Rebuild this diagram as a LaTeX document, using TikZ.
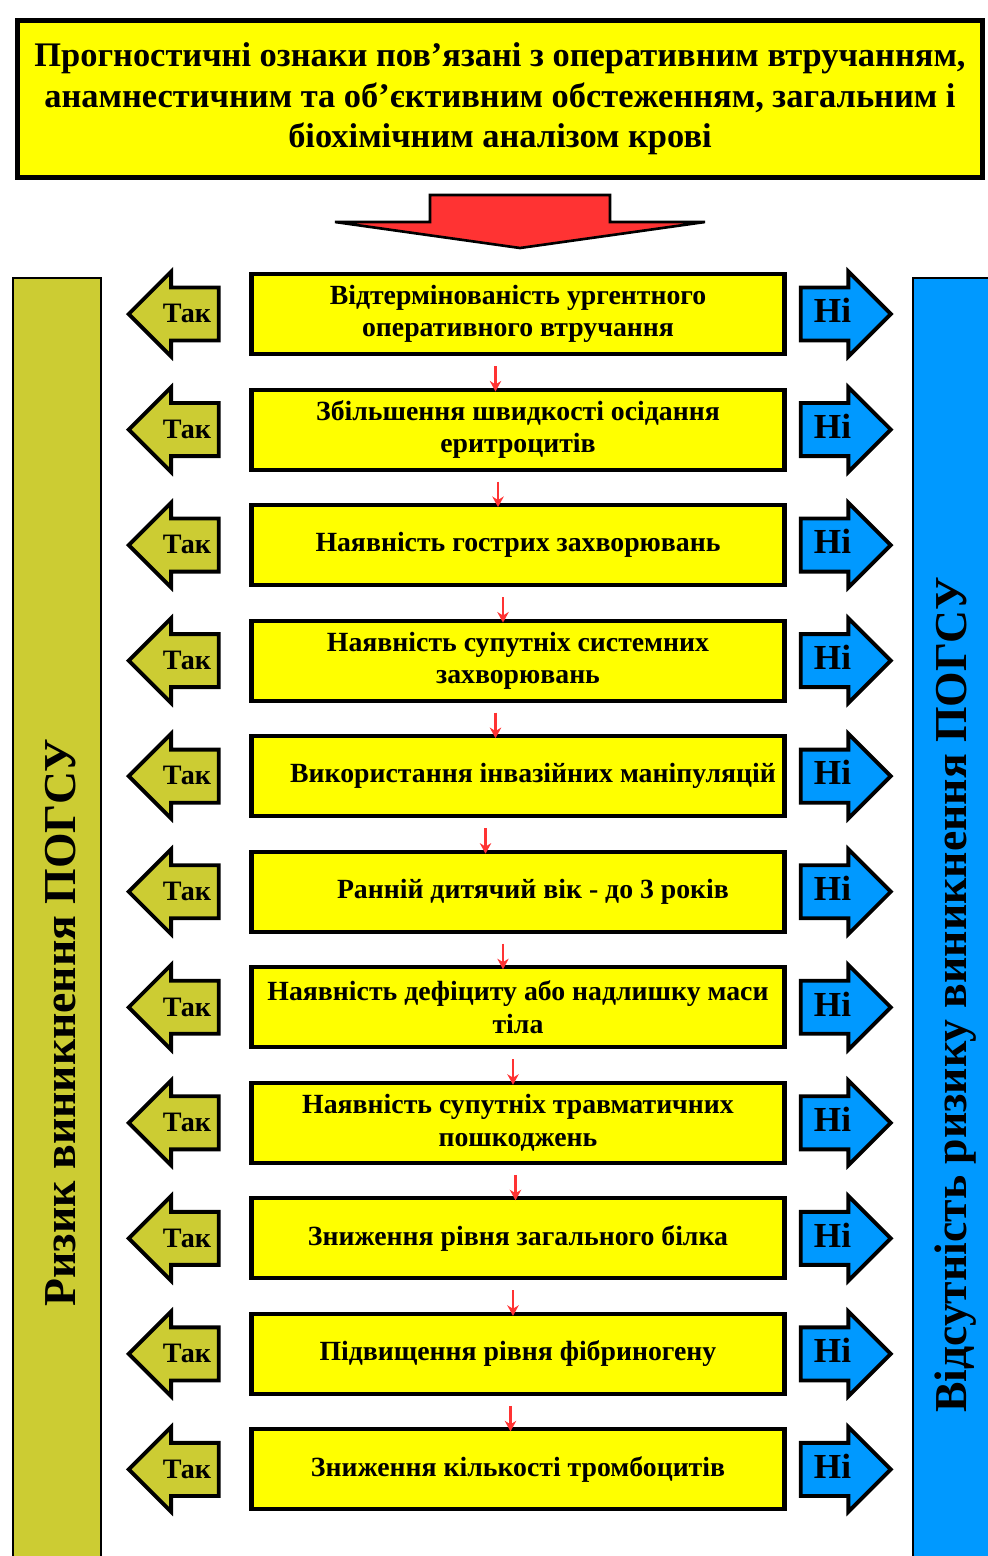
\documentclass[tikz,border=0pt]{standalone}
\usepackage{fontspec}
\setmainfont{Liberation Serif}
\usepackage{tikz}
\usetikzlibrary{shapes.geometric, shapes.arrows, arrows, arrows.meta, positioning, calc}
\definecolor{boxyellow}{RGB}{255, 255, 0}
\definecolor{riskolive}{RGB}{204, 204, 51}
\definecolor{norisk}{RGB}{0, 153, 255}
\definecolor{arrowred}{RGB}{255, 51, 51}
\tikzstyle{headbox} = [rectangle, minimum width=19.3cm, minimum height=3.15cm, align=center, draw=black, line width=2.8pt, fill=boxyellow, font=\bfseries\fontsize{19.6}{23}\selectfont]
\tikzstyle{sign} = [rectangle, minimum width=10.66cm, minimum height=1.6cm, align=center, draw=black, line width=2.3pt, fill=boxyellow, font=\bfseries\fontsize{15.8}{18.5}\selectfont]
\tikzstyle{yes} = [single arrow, shape border rotate=180, single arrow head extend=9pt, single arrow head indent=0pt, minimum height=1.8cm, inner xsep=2pt, inner ysep=9pt, text height=10pt, text depth=0pt, draw=black, line width=2.2pt, fill=riskolive, font=\bfseries\fontsize{16}{16}\selectfont]
\tikzstyle{no} = [single arrow, single arrow head extend=9pt, single arrow head indent=0pt, minimum height=1.8cm, inner xsep=2pt, inner ysep=9pt, text height=10pt, text depth=0pt, draw=black, line width=2.2pt, fill=norisk, font=\bfseries\fontsize{20}{20}\selectfont]
\tikzstyle{sidebar} = [rectangle, anchor=north west, draw=black, line width=1.2pt]
\tikzstyle{sidetext} = [rotate=90, font=\bfseries\fontsize{26}{26}\selectfont]
\tikzstyle{arrow} = [-{Stealth[length=6pt,width=6.5pt]}, line width=1.6pt, draw=arrowred, shorten <=0.2cm, shorten >=-0.08cm]

\begin{document}
\begin{tikzpicture}[node distance=0.63cm]
\useasboundingbox (0,0) rectangle (19.74,-31.12);

% Heading
\node (head) [headbox] at (10.0,-1.98) {Прогностичні ознаки пов’язані з оперативним втручанням,\\ анамнестичним та об’єктивним обстеженням, загальним і\\ біохімічним аналізом крові};
\filldraw [fill=arrowred, draw=black, line width=1.5pt] (8.6,-3.9) -- (12.2,-3.9) -- (12.2,-4.44) -- (14.1,-4.44) -- (10.4,-4.96) -- (6.7,-4.44) -- (8.6,-4.44) -- cycle;

% Side bars
\node (riskbar) [sidebar, fill=riskolive, minimum width=1.76cm, minimum height=25.8cm] at (0.24,-5.54) {};
\node (norbar) [sidebar, fill=norisk, minimum width=1.9cm, minimum height=25.8cm] at (18.24,-5.54) {};
\node (risktext) [sidetext] at (1.22,-20.45) {Ризик виникнення ПОГСУ};
\node (notext) [sidetext] at (19.12,-19.9) {Відсутність ризику виникнення ПОГСУ};

% Signs
\node (s1) [sign] at (10.36,-6.28) {Відтермінованість ургентного\\ оперативного втручання};
\node (s2) [sign, below=of s1] {Збільшення швидкості осідання\\ еритроцитів};
\node (s3) [sign, below=of s2] {Наявність гострих захворювань};
\node (s4) [sign, below=of s3] {Наявність супутніх системних\\ захворювань};
\node (s5) [sign, below=of s4] {\hspace{0.6cm}Використання інвазійних маніпуляцій};
\node (s6) [sign, below=of s5] {\hspace{0.6cm}Ранній дитячий вік - до 3 років};
\node (s7) [sign, below=of s6] {Наявність дефіциту або надлишку маси\\ тіла};
\node (s8) [sign, below=of s7] {Наявність супутніх травматичних\\ пошкоджень};
\node (s9) [sign, below=of s8] {Зниження рівня загального білка};
\node (s10) [sign, below=of s9] {Підвищення рівня фібриногену};
\node (s11) [sign, below=of s10] {Зниження кількості тромбоцитів};

% Yes / No
\node (y1) [yes] at (3.74,0 |- s1) {Так};
\node (y2) [yes] at (3.74,0 |- s2) {Так};
\node (y3) [yes] at (3.74,0 |- s3) {Так};
\node (y4) [yes] at (3.74,0 |- s4) {Так};
\node (y5) [yes] at (3.74,0 |- s5) {Так};
\node (y6) [yes] at (3.74,0 |- s6) {Так};
\node (y7) [yes] at (3.74,0 |- s7) {Так};
\node (y8) [yes] at (3.74,0 |- s8) {Так};
\node (y9) [yes] at (3.74,0 |- s9) {Так};
\node (y10) [yes] at (3.74,0 |- s10) {Так};
\node (y11) [yes] at (3.74,0 |- s11) {Так};
\node (n1) [no] at (16.65,0 |- s1) {Ні};
\node (n2) [no] at (16.65,0 |- s2) {Ні};
\node (n3) [no] at (16.65,0 |- s3) {Ні};
\node (n4) [no] at (16.65,0 |- s4) {Ні};
\node (n5) [no] at (16.65,0 |- s5) {Ні};
\node (n6) [no] at (16.65,0 |- s6) {Ні};
\node (n7) [no] at (16.65,0 |- s7) {Ні};
\node (n8) [no] at (16.65,0 |- s8) {Ні};
\node (n9) [no] at (16.65,0 |- s9) {Ні};
\node (n10) [no] at (16.65,0 |- s10) {Ні};
\node (n11) [no] at (16.65,0 |- s11) {Ні};

% Arrows
\draw [arrow] ([xshift=-0.45cm]s1.south) -- ([xshift=-0.45cm]s2.north);
\draw [arrow] ([xshift=-0.4cm]s2.south) -- ([xshift=-0.4cm]s3.north);
\draw [arrow] ([xshift=-0.3cm]s3.south) -- ([xshift=-0.3cm]s4.north);
\draw [arrow] ([xshift=-0.45cm]s4.south) -- ([xshift=-0.45cm]s5.north);
\draw [arrow] ([xshift=-0.65cm]s5.south) -- ([xshift=-0.65cm]s6.north);
\draw [arrow] ([xshift=-0.3cm]s6.south) -- ([xshift=-0.3cm]s7.north);
\draw [arrow] ([xshift=-0.1cm]s7.south) -- ([xshift=-0.1cm]s8.north);
\draw [arrow] ([xshift=-0.05cm]s8.south) -- ([xshift=-0.05cm]s9.north);
\draw [arrow] ([xshift=-0.1cm]s9.south) -- ([xshift=-0.1cm]s10.north);
\draw [arrow] ([xshift=-0.15cm]s10.south) -- ([xshift=-0.15cm]s11.north);

\end{tikzpicture}
\end{document}
